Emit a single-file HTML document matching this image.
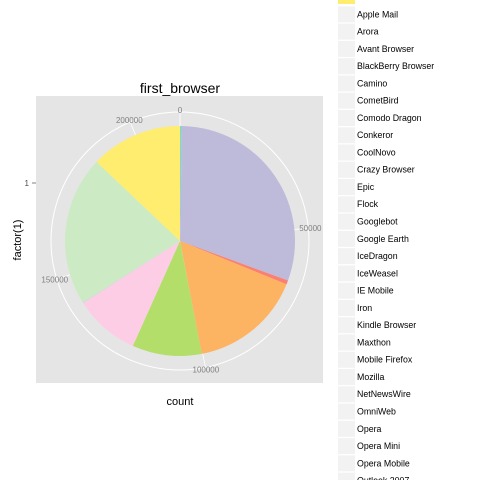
<!DOCTYPE html>
<html><head><meta charset="utf-8"><style>
body{margin:0;background:#fff;font-family:"Liberation Sans",sans-serif;}
svg{display:block}
</style></head><body>
<svg width="480" height="480" viewBox="0 0 480 480">
<rect x="36" y="96" width="287" height="287" fill="#E5E5E5"/>
<g id="grid"></g>
<g id="slices"></g>
<g id="labels"></g>
<text x="180" y="93" font-size="14" text-anchor="middle" fill="#000">first_browser</text>
<text x="180" y="405" font-size="11" text-anchor="middle" fill="#000">count</text>
<text x="21" y="240" font-size="11" text-anchor="middle" fill="#000" transform="rotate(-90 21 240)">factor(1)</text>
<text x="29" y="186" font-size="8" text-anchor="end" fill="#4D4D4D">1</text>
<line x1="32" y1="183" x2="36" y2="183" stroke="#4D4D4D" stroke-width="0.7"/>
<g id="legend"></g>
</svg>
<script>
const sliceNames=["tealsliver","lavender","red","orange","green","pink","graysliver","lightgreen","yellow"];
const sliceValues=[600,64700,1200,33800,20800,19600,400,44800,27600];
const sliceColors=["#8DD3C7","#BEBADA","#FB8072","#FDB462","#B3DE69","#FCCDE5","#D9D9D9","#CCEBC5","#FFED6F"];
const tickValues=[0,50000,100000,150000,200000];
const tickLabels=["0","50000","100000","150000","200000"];
const legendItems=["Apple Mail","Arora","Avant Browser","BlackBerry Browser","Camino","CometBird","Comodo Dragon","Conkeror","CoolNovo","Crazy Browser","Epic","Flock","Googlebot","Google Earth","IceDragon","IceWeasel","IE Mobile","Iron","Kindle Browser","Maxthon","Mobile Firefox","Mozilla","NetNewsWire","OmniWeb","Opera","Opera Mini","Opera Mobile","Outlook 2007"];
const NS="http://www.w3.org/2000/svg";
const cx=180,cy=241,R=115,RG=129;
const total=sliceValues.reduce((a,b)=>a+b,0);
function ang(v){return v/total*2*Math.PI;}
function pt(a,r){return [cx+r*Math.sin(a),cy-r*Math.cos(a)];}
const grid=document.getElementById('grid');
const c=document.createElementNS(NS,'circle');
c.setAttribute('cx',cx);c.setAttribute('cy',cy);c.setAttribute('r',RG);
c.setAttribute('fill','none');c.setAttribute('stroke','#fff');c.setAttribute('stroke-width','1');


grid.appendChild(c);
const labels=document.getElementById('labels');
tickValues.forEach((t,i)=>{
  const a=ang(t);const p1=pt(a,0),p2=pt(a,RG);
  const l=document.createElementNS(NS,'line');
  l.setAttribute('x1',p1[0]);l.setAttribute('y1',p1[1]);l.setAttribute('x2',p2[0]);l.setAttribute('y2',p2[1]);
  l.setAttribute('stroke','#fff');l.setAttribute('stroke-width','0.8');
  
  
  grid.appendChild(l);
  const p=pt(a,RG+2);
  const tx=document.createElementNS(NS,'text');
  tx.setAttribute('x',p[0]);tx.setAttribute('y',p[1]+3);
  tx.setAttribute('font-size','8');tx.setAttribute('fill','#7F7F7F');tx.setAttribute('text-anchor','middle');
  tx.textContent=tickLabels[i];
  
  
  labels.appendChild(tx);
});
const sl=document.getElementById('slices');let acc=0;
sliceValues.forEach((v,i)=>{
  const a0=ang(acc),a1=ang(acc+v);acc+=v;
  const p0=pt(a0,R),p1=pt(a1,R);const large=(a1-a0)>Math.PI?1:0;
  const path=document.createElementNS(NS,'path');
  path.setAttribute('d',`M${cx},${cy}L${p0[0]},${p0[1]}A${R},${R} 0 ${large} 1 ${p1[0]},${p1[1]}Z`);
  path.setAttribute('fill',sliceColors[i]);
  
  
  sl.appendChild(path);
});
const lg=document.getElementById('legend');
const top0=-11.5,step=17.27;
const yk=document.createElementNS(NS,'rect');
yk.setAttribute('x',338);yk.setAttribute('y',-12);yk.setAttribute('width',17);yk.setAttribute('height',16);yk.setAttribute('fill','#FFED6F');


lg.appendChild(yk);
legendItems.forEach((n,i)=>{
  const y=top0+step*(i+1);
  const r=document.createElementNS(NS,'rect');
  r.setAttribute('x',338);r.setAttribute('y',y+0.6);r.setAttribute('width',17);r.setAttribute('height',16);r.setAttribute('fill','#F2F2F2');
  
  
  lg.appendChild(r);
  const t=document.createElementNS(NS,'text');
  t.setAttribute('x',357);t.setAttribute('y',y+11.5);t.setAttribute('font-size','8.8');t.setAttribute('fill','#000');
  t.textContent=n;
  
  
  lg.appendChild(t);
});
</script>
</body></html>
